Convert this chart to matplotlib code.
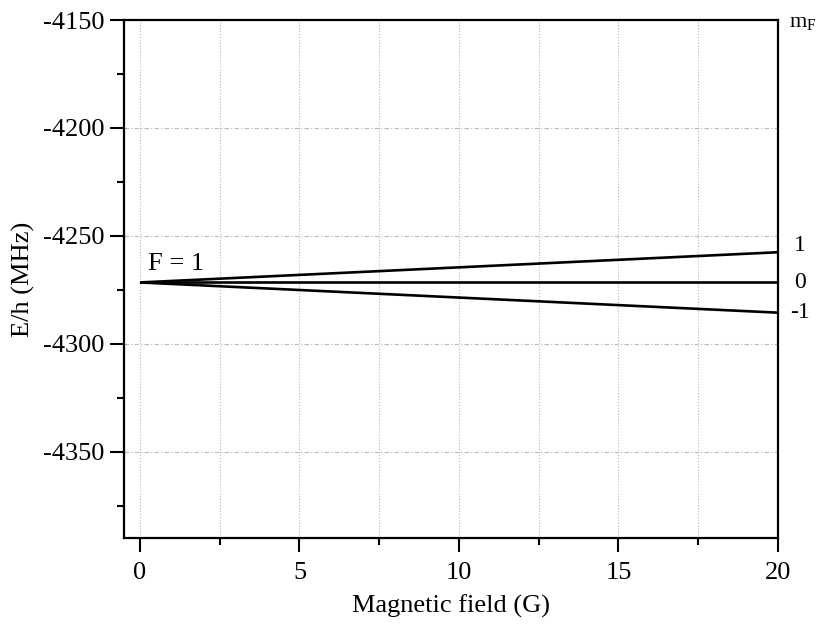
import matplotlib
matplotlib.use("Agg")
import matplotlib.pyplot as plt
from matplotlib.ticker import MultipleLocator

plt.rcParams['font.family'] = ['Liberation Serif', 'DejaVu Serif']
plt.rcParams['mathtext.fontset'] = 'custom'
plt.rcParams['mathtext.rm'] = 'Liberation Serif'
plt.rcParams['axes.unicode_minus'] = False

# magnetic field (G) and energies (MHz) of the F = 1 levels
field = [0, 20]
E_m1 = [-4271.6, -4257.6]
E_0 = [-4271.6, -4271.6]
E_mm1 = [-4271.6, -4285.6]
mF_labels = ["1", "0", "-1"]

fig = plt.figure(figsize=(8.2, 6.31), dpi=100)
ax = fig.add_axes([0.1512, 0.1474, 0.7976, 0.8209])

for E in (E_m1, E_0, E_mm1):
    ax.plot(field, E, color='black', lw=1.9, solid_capstyle='butt')

ax.set_xlim(-0.5, 20)
ax.set_ylim(-4390, -4150)

ax.xaxis.set_major_locator(MultipleLocator(5))
ax.xaxis.set_minor_locator(MultipleLocator(2.5))
ax.yaxis.set_major_locator(MultipleLocator(50))
ax.yaxis.set_minor_locator(MultipleLocator(25))

ax.tick_params(which='major', direction='out', length=10, width=1.5, labelsize=19, pad=4)
ax.tick_params(which='minor', direction='out', length=5, width=1.5)
ax.tick_params(axis='x', which='major', pad=7)

for s in ax.spines.values():
    s.set_linewidth(1.6)

# grid: dotted verticals at every tick, dash-dot horizontals at major ticks
ax.grid(which='both', axis='x', color='#b8b8b8', lw=0.8, ls=':')
ax.grid(which='major', axis='y', color='#b8b8b8', lw=0.8, ls=(0, (4, 2, 1, 2)))
ax.set_axisbelow(True)

ax.set_xlabel("Magnetic field (G)", fontsize=19, labelpad=8)
ax.set_ylabel("E/h (MHz)", fontsize=19, labelpad=6)

ax.text(0.25, -4266, "F = 1", fontsize=19, ha='left', va='baseline')

ends = [E_m1[-1] + 3, E_0[-1], E_mm1[-1]]
for lab, y in zip(mF_labels, ends):
    ax.text(20.7, y, lab, fontsize=17, ha='center', va='center', clip_on=False)
fig.text(0.996, 0.965, r"$\mathrm{m_F}$", fontsize=16, ha='right', va='center')

fig.savefig("out.png", dpi=100)
